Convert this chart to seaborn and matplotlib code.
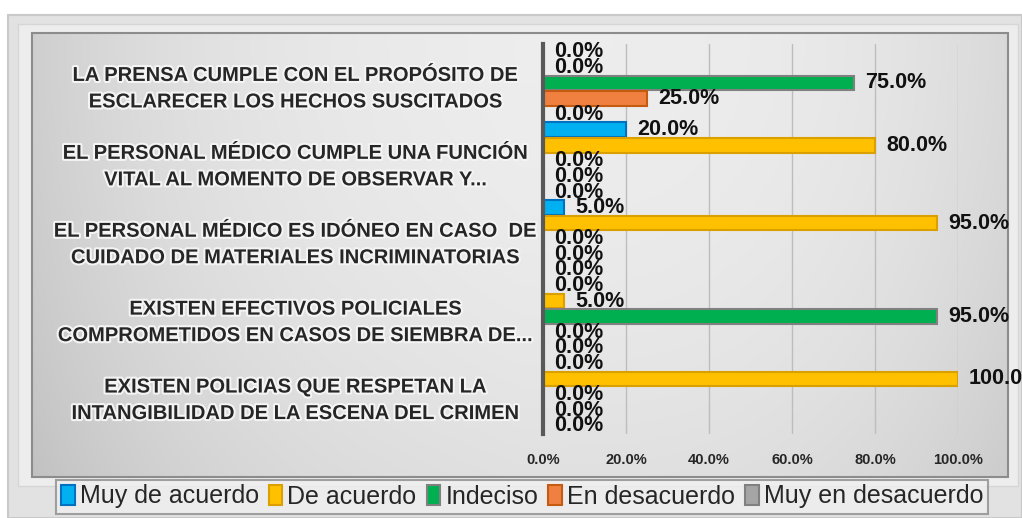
import numpy as np
import pandas as pd
import matplotlib
matplotlib.use("Agg")
import matplotlib.pyplot as plt
import matplotlib.patches as mpatches
import matplotlib.patheffects as pe
import seaborn as sns

# ---------------- data ----------------
categories = [
    "LA PRENSA CUMPLE CON EL PROPÓSITO DE\nESCLARECER LOS HECHOS SUSCITADOS",
    "EL PERSONAL MÉDICO CUMPLE UNA FUNCIÓN\nVITAL AL MOMENTO DE OBSERVAR Y...",
    "EL PERSONAL MÉDICO ES IDÓNEO EN CASO  DE\nCUIDADO DE MATERIALES INCRIMINATORIAS",
    "EXISTEN EFECTIVOS POLICIALES\nCOMPROMETIDOS EN CASOS DE SIEMBRA DE...",
    "EXISTEN POLICIAS QUE RESPETAN LA\nINTANGIBILIDAD DE LA ESCENA DEL CRIMEN",
]
series = ["Muy de acuerdo", "De acuerdo", "Indeciso", "En desacuerdo", "Muy en desacuerdo"]
muy_de_acuerdo = [0.0, 20.0, 5.0, 0.0, 0.0]
de_acuerdo = [0.0, 80.0, 95.0, 5.0, 100.0]
indeciso = [75.0, 0.0, 0.0, 95.0, 0.0]
en_desacuerdo = [25.0, 0.0, 0.0, 0.0, 0.0]
muy_en_desacuerdo = [0.0, 0.0, 0.0, 0.0, 0.0]
x_ticks = [0, 20, 40, 60, 80, 100]

values = [muy_de_acuerdo, de_acuerdo, indeciso, en_desacuerdo, muy_en_desacuerdo]
rows = []
for s, vals in zip(series, values):
    for c, v in zip(categories, vals):
        rows.append({"category": c, "series": s, "value": v})
df = pd.DataFrame(rows)

face_colors = ["#00B0F0", "#FFC000", "#00B050", "#F08040", "#A5A5A5"]
edge_colors = ["#0070C0", "#D9A000", "#808080", "#C55A11", "#808080"]

# ---------------- figure ----------------
sns.set_style("white")
plt.rcParams["font.family"] = ["Liberation Sans", "DejaVu Sans"]

W, H = 1022, 518
fig = plt.figure(figsize=(W / 100, H / 100), dpi=100)
fig.patch.set_facecolor("white")

# background decoration
bg = fig.add_axes([0, 0, 1, 1], zorder=-5)
bg.set_xlim(0, W)
bg.set_ylim(H, 0)
bg.axis("off")
bg.add_patch(mpatches.Rectangle((8, 15), W - 8, H - 15, facecolor="#e2e2e2",
                                edgecolor="#c9c9c9", lw=1.5))
bg.add_patch(mpatches.Rectangle((18, 24), W - 22, 462, facecolor="#ededed",
                                edgecolor="#d6d6d6", lw=1.0))
gx = np.linspace(-1, 1, 300)
gy = np.linspace(-1, 1, 150)
GX, GY = np.meshgrid(gx, gy)
shade = 0.93 - 0.08 * (np.abs(GX) ** 3) - 0.05 * (GY + 1) ** 2 / 4 - 0.04 * np.clip(-GX, 0, 1)
shade = np.clip(shade, 0, 1)
img = np.dstack([shade, shade, shade])
bg.imshow(img, extent=(32, 1008, 477, 33), aspect="auto", interpolation="bilinear", zorder=1)
bg.add_patch(mpatches.Rectangle((32, 33), 976, 444, facecolor="none",
                                edgecolor="#8c8c8c", lw=1.5, zorder=2))

# main axes
ax = fig.add_axes([543 / W, 1 - 433.5 / H, (958 - 543) / W, (433.5 - 44) / H])
ax.set_facecolor("none")

sns.barplot(data=df, x="value", y="category", hue="series", orient="h",
            palette=face_colors, saturation=1, width=1.0, gap=0.06, linewidth=1.5,
            ax=ax, legend=True)

for cont, ec in zip(ax.containers, edge_colors):
    for p in cont.patches:
        p.set_edgecolor(ec)
    ax.bar_label(cont, labels=[f"{v:.1f}%" for v in cont.datavalues],
                 padding=8, fontsize=15.5, fontweight="bold", color="#111111")

ax.set_xlim(0, 100)
ax.set_xticks(x_ticks)
ax.set_xticklabels([f"{t:.1f}%" for t in x_ticks], fontsize=10.5, fontweight="bold")
ax.tick_params(axis="x", length=0, pad=14)
ax.tick_params(axis="y", length=0, pad=178)
for lab in ax.get_yticklabels():
    lab.set_fontsize(14.5)
    lab.set_fontweight("bold")
    lab.set_ha("center")
    lab.set_multialignment("center")
    lab.set_linespacing(1.5)
    lab.set_path_effects([pe.withStroke(linewidth=3, foreground="#f4f4f4")])
ax.set_xlabel("")
ax.set_ylabel("")
ax.xaxis.grid(True, color="#bdbdbd", lw=1)
ax.yaxis.grid(False)
ax.set_axisbelow(True)
for s in ["top", "right", "bottom"]:
    ax.spines[s].set_visible(False)
ax.spines["left"].set_color("#595959")
ax.spines["left"].set_linewidth(3)

handles, labels = ax.get_legend_handles_labels()
ax.get_legend().remove()
for h, ec in zip(handles, edge_colors):
    h.set_edgecolor(ec)
leg = fig.legend(handles, labels, loc="center", bbox_to_anchor=(522 / W, 1 - 496.5 / H),
                 ncol=5, fontsize=18, frameon=True, fancybox=False,
                 handlelength=0.55, handleheight=0.85, handletextpad=0.2,
                 columnspacing=0.4, borderpad=0.2, borderaxespad=0)
leg.get_frame().set_facecolor("#efefef")
leg.get_frame().set_edgecolor("#8c8c8c")
leg.get_frame().set_linewidth(1.5)

fig.savefig("out.png", dpi=100)
